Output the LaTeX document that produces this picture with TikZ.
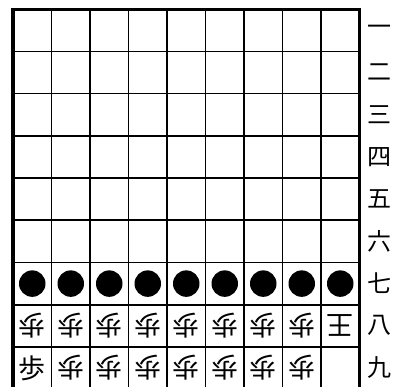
\documentclass[tikz,border=0pt]{standalone}
\usepackage{fontspec}
\newfontfamily\cjk{Noto Sans CJK JP}
\begin{document}
\begin{tikzpicture}[x=1pt,y=-1pt,
  gridline/.style={line width=1.6pt},
  boardedge/.style={line width=3.5pt},
  rowlabel/.style={font=\cjk\fontsize{24}{24}\selectfont, inner sep=0pt},
  piece/.style={font=\cjk\fontsize{27}{27}\selectfont, inner sep=0pt},
  stone/.style={circle, fill=black, minimum size=26.5pt, inner sep=0pt}]
\useasboundingbox (0,0) rectangle (396,387);
\fill[white] (0,0) rectangle (396,387);
\foreach \i in {1,...,8} \draw[gridline] ({13+38.5*\i},9.3) -- ({13+38.5*\i},389.1);
\foreach \j in {1,...,8} \draw[gridline] (13,{9.3+42.2*\j}) -- (359.5,{9.3+42.2*\j});
\draw[boardedge] (13,9.3) rectangle (359.5,389.1);
\foreach \k/\t in {0/一,1/二,2/三,3/四,4/五,5/六,6/七,7/八,8/九}
  \node[rowlabel] (r\k) at (379,{30.4+42.2*\k}) {\t};
\foreach \c in {0,...,8}
  \node[stone] (s\c) at ({32.25+38.5*\c},283.6) {};
\foreach \c in {0,...,7}
  \node[piece, rotate=180] (a\c) at ({32.25+38.5*\c},325.8) {歩};
\node[piece, rotate=180] (k8) at ({32.25+38.5*8},325.8) {王};
\node[piece] (b0) at (32.25,368) {歩};
\foreach \c in {1,...,7}
  \node[piece, rotate=180] (b\c) at ({32.25+38.5*\c},368) {歩};
\end{tikzpicture}
\end{document}
